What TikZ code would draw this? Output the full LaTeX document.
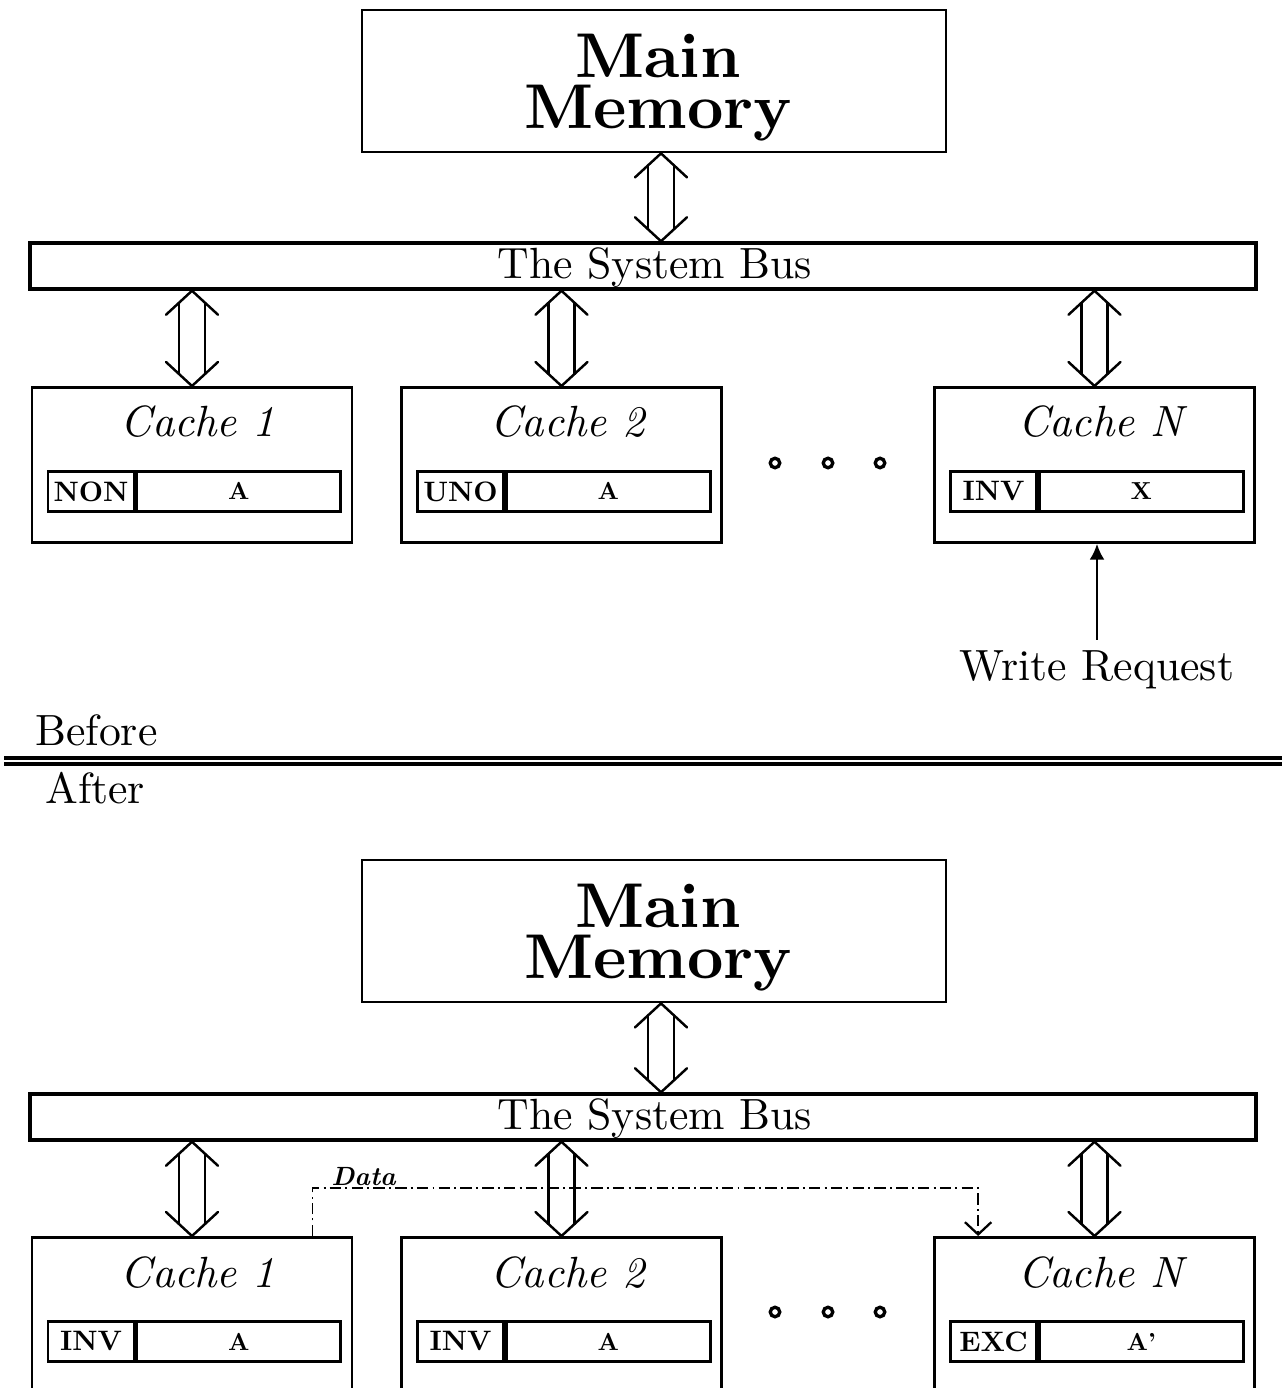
\documentclass[tikz,border=0pt]{standalone}
\usepackage{fontspec}
\setmainfont{lmroman10-regular.otf}[
  BoldFont=lmroman10-bold.otf,
  ItalicFont=lmroman10-italic.otf,
  BoldItalicFont=lmroman10-bolditalic.otf]
\usetikzlibrary{calc,arrows.meta}

\tikzset{
  boxline/.style={line width=1.6pt},
  membox/.style={draw, boxline, minimum width=11.68cm, minimum height=2.84cm, inner sep=0pt},
  memtext/.style={align=center, inner sep=0pt, font=\fontsize{36}{29}\selectfont\bfseries},
  busbox/.style={draw, line width=2pt, minimum width=24.52cm, minimum height=0.92cm, inner sep=0pt},
  plain/.style={inner sep=0pt, font=\fontsize{24.88}{29}\selectfont},
  cachebox/.style={draw, boxline, minimum width=6.4cm, minimum height=3.1cm, inner sep=0pt},
  cachetitle/.style={inner sep=0pt, font=\fontsize{24.88}{29}\selectfont\itshape},
  tagcell/.style={draw, boxline, minimum width=1.72cm, minimum height=0.8cm, inner sep=0pt,
                  font=\fontsize{16}{18}\selectfont\bfseries},
  valcell/.style={draw, boxline, minimum width=4.08cm, minimum height=0.8cm, inner sep=0pt,
                  font=\fontsize{14}{16}\selectfont\bfseries},
  dotmark/.style={circle, draw, line width=1.9pt, minimum size=0.19cm, inner sep=0pt},
  dblar/.style={line width=1.4pt, line cap=round, line join=miter},
  dataline/.style={line width=0.8pt, dash pattern=on 6.5pt off 2.4pt on 1.1pt off 2.4pt},
}

% hollow two-headed arrow between two points #1 (top) and #2 (bottom)
\newcommand\dblarrow[2]{%
  \draw[dblar] ($(#1)+(-26,24)$) -- (#1) -- ($(#1)+(26,24)$);
  \draw[dblar] ($(#2)+(-26,-24)$) -- (#2) -- ($(#2)+(26,-24)$);
  \draw[dblar] ($(#1)+(-13,12)$) -- ($(#2)+(-13,-12)$);
  \draw[dblar] ($(#1)+(13,12)$) -- ($(#2)+(13,-12)$);
}

% cache box: name, centre x, top y, title, state tag, value
\newcommand\cacheunit[6]{%
  \node[cachebox, anchor=north] (#1) at (#2,#3) {};
  \node[cachetitle, anchor=base] (#1t) at ($(#1.north)+(6,51)$) {#4};
  \node[tagcell, anchor=north west] (#1s) at ($(#1.north west)+(16,84)$) {#5};
  \node[valcell, anchor=west] (#1v) at (#1s.east) {#6};
}

\begin{document}
\begin{tikzpicture}[x=0.02cm, y=-0.02cm]
\clip (0,0) rectangle (1282,1388);

%%%%%%%%%%%%%%%% upper system
\node[membox] (mem1) at (654,81) {};
\node[memtext] (mem1t) at ($(mem1.center)+(4,7)$) {Main\\Memory};

\node[busbox] (bus1) at (643,266) {};
\node[plain] (bus1t) at (655,268) {The System Bus};

\cacheunit{ca}{192}{386}{Cache 1}{NON}{A}
\cacheunit{cb}{561.5}{386}{Cache 2}{UNO}{A}
\cacheunit{cc}{1094.5}{386}{Cache N}{INV}{X}

\node[dotmark] (d1a) at (775,463) {};
\node[dotmark] (d1b) at (828,463) {};
\node[dotmark] (d1c) at (880,463) {};

\coordinate (m1a) at ($(mem1.south)+(7,0)$);
\coordinate (m1b) at (m1a |- bus1.north);
\dblarrow{m1a}{m1b}
\coordinate (a1) at (ca.north |- bus1.south);
\coordinate (b1) at (cb.north |- bus1.south);
\coordinate (c1) at (cc.north |- bus1.south);
\dblarrow{a1}{ca.north}
\dblarrow{b1}{cb.north}
\dblarrow{c1}{cc.north}

\node[plain, anchor=base] (wr) at (1097,680) {Write Request};
\draw[line width=1.4pt, shorten <=0.2cm, -{Latex[length=9pt,width=8.5pt]}]
  (wr.north) -- (wr.north |- cc.south);

%%%%%%%%%%%%%%%% divider
\node[plain, anchor=base west] (before) at (35,745) {Before};
\node[plain, anchor=base west] (after) at (45,803) {After};
\coordinate (divl) at (4,758);
\coordinate (divr) at (1282,758);
\draw[line width=2pt] (divl) -- (divr);
\draw[line width=2pt] ($(divl)+(0,6)$) -- ($(divr)+(0,6)$);

%%%%%%%%%%%%%%%% lower system
\node[membox] (mem2) at (654,931) {};
\node[memtext] (mem2t) at ($(mem2.center)+(4,7)$) {Main\\Memory};

\node[busbox] (bus2) at (643,1117) {};
\node[plain] (bus2t) at (655,1119) {The System Bus};

\cacheunit{la}{192}{1236}{Cache 1}{INV}{A}
\cacheunit{lb}{561.5}{1236}{Cache 2}{INV}{A}
\cacheunit{lc}{1094.5}{1236}{Cache N}{EXC}{A'}

\node[dotmark] (d2a) at (775,1312) {};
\node[dotmark] (d2b) at (828,1312) {};
\node[dotmark] (d2c) at (880,1312) {};

\coordinate (m2a) at ($(mem2.south)+(7,0)$);
\coordinate (m2b) at (m2a |- bus2.north);
\dblarrow{m2a}{m2b}
\coordinate (a2) at (la.north |- bus2.south);
\coordinate (b2) at (lb.north |- bus2.south);
\coordinate (c2) at (lc.north |- bus2.south);
\dblarrow{a2}{la.north}
\dblarrow{b2}{lb.north}
\dblarrow{c2}{lc.north}

% data transfer from cache 1 to cache N
\coordinate (dsrc) at ($(la.north east)+(-41,0)$);
\coordinate (ddst) at ($(lc.north west)+(45,0)$);
\draw[dataline, -{Straight Barb[length=7pt,width=15pt,line width=1.3pt]}]
  (dsrc) -- ++(0,-48) -| (ddst);
\node[inner sep=0pt, anchor=base west, font=\fontsize{15}{17}\selectfont\bfseries\itshape]
  (data) at (331,1185) {Data};
\end{tikzpicture}
\end{document}
